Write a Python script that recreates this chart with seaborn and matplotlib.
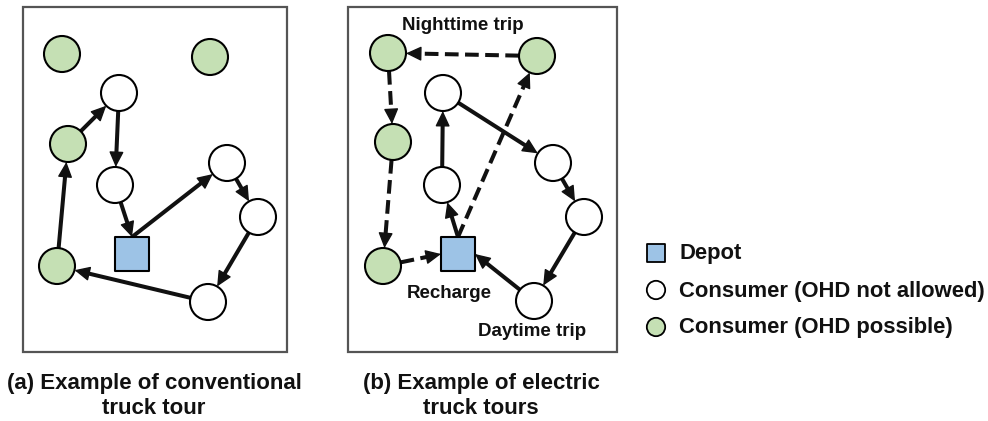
import numpy as np
import pandas as pd
import matplotlib.pyplot as plt
import seaborn as sns

# node data, in pixel units of the 988x421 canvas (y grows downwards)
a_x = [62, 210, 119, 68, 115, 227, 258, 132, 57, 208]
a_y = [54, 57, 93, 144, 185, 163, 217, 254, 266, 302]
a_kind = ["green", "green", "white", "green", "white", "white", "white", "depot", "green", "white"]
# (from, to, line style, port at start, port at end)
a_edges = [
    (7, 5, "solid", "top", "c"),
    (5, 6, "solid", "c", "c"),
    (6, 9, "solid", "c", "c"),
    (9, 8, "solid", "c", "c"),
    (8, 3, "solid", "c", "c"),
    (3, 2, "solid", "c", "c"),
    (2, 4, "solid", "c", "c"),
    (4, 7, "solid", "c", "top"),
]

b_x = [388, 537, 443, 393, 553, 442, 584, 458, 383, 534]
b_y = [53, 56, 93, 142, 163, 185, 217, 254, 266, 301]
b_kind = ["green", "green", "white", "green", "white", "white", "white", "depot", "green", "white"]
b_edges = [
    (7, 5, "solid", "top", "c"),
    (5, 2, "solid", "c", "c"),
    (2, 4, "solid", "c", "c"),
    (4, 6, "solid", "c", "c"),
    (6, 9, "solid", "c", "c"),
    (9, 7, "solid", "c", "right"),
    (7, 1, "dashed", "top", "c"),
    (1, 0, "dashed", "c", "c"),
    (0, 3, "dashed", "c", "c"),
    (3, 8, "dashed", "c", "c"),
    (8, 7, "dashed", "c", "left"),
]

b_notes = ["Nighttime trip", "Recharge", "Daytime trip"]
b_notes_x = [463, 449, 532]
b_notes_y = [25, 293, 332]

captions = ["(a) Example of conventional\ntruck tour", "(b) Example of electric\ntruck tours"]
legend_kind = ["depot", "white", "green"]
legend_text = ["Depot", "Consumer (OHD not allowed)", "Consumer (OHD possible)"]

colors = {"depot": "#9dc3e6", "white": "#ffffff", "green": "#c5e0b4"}
markers = {"depot": "s", "white": "o", "green": "o"}
sizes = {"depot": 600, "white": 672, "green": 672}
half = {"depot": 17, "white": 18, "green": 18}
line_color = "#111111"

fig = plt.figure(figsize=(9.88, 4.21), dpi=100)
ax = fig.add_axes([0, 0, 1, 1])
ax.set_xlim(0, 988)
ax.set_ylim(421, 0)
ax.axis("off")

font = dict(family="Liberation Sans", fontweight="bold", color="#111111")

# panel frames
for (x0, y0, x1, y1) in [(23, 7, 287, 352), (348, 7, 617, 352)]:
    ax.add_patch(plt.Rectangle((x0, y0), x1 - x0, y1 - y0, fill=False,
                               edgecolor="#555555", linewidth=1.6, zorder=1))


def port_point(px, py, kind, port, tx, ty):
    h = half[kind]
    if port == "top":
        return np.array([px, py - h])
    if port == "left":
        return np.array([px - h, py])
    if port == "right":
        return np.array([px + h, py])
    d = np.array([tx - px, ty - py], dtype=float)
    if kind == "depot":
        return np.array([px, py]) + d * h / np.abs(d).max()
    return np.array([px, py]) + d / np.linalg.norm(d) * h


def draw_panel(xs, ys, kinds, edges):
    df = pd.DataFrame({"x": xs, "y": ys, "kind": kinds})
    sns.scatterplot(data=df, x="x", y="y", hue="kind", style="kind", size="kind",
                    palette=colors, markers=markers, sizes=sizes,
                    edgecolor="black", linewidth=1.5, legend=False, ax=ax, zorder=4)
    for s, t, style, ps, pt in edges:
        # aim at the other node's port (or centre)
        st = port_point(xs[t], ys[t], kinds[t], pt, xs[s], ys[s]) if pt != "c" else (xs[t], ys[t])
        p0 = port_point(xs[s], ys[s], kinds[s], ps, st[0], st[1])
        sp = p0 if ps != "c" else (xs[s], ys[s])
        p1 = port_point(xs[t], ys[t], kinds[t], pt, sp[0], sp[1])
        u = (p1 - p0) / np.linalg.norm(p1 - p0)
        head = 13.0
        shaft_end = p1 - u * head * 0.6
        if style == "dashed":
            ax.plot([p0[0], shaft_end[0]], [p0[1], shaft_end[1]], color=line_color,
                    linewidth=2.9, dashes=(3.4, 1.6), solid_capstyle="butt", zorder=2)
        else:
            ax.plot([p0[0], shaft_end[0]], [p0[1], shaft_end[1]], color=line_color,
                    linewidth=2.9, solid_capstyle="butt", zorder=2)
        tail = p1 - u * head
        ax.annotate("", xy=p1, xytext=tail,
                    arrowprops=dict(arrowstyle="-|>,head_length=0.95,head_width=0.45",
                                    mutation_scale=10, color=line_color, lw=1,
                                    shrinkA=0, shrinkB=0), zorder=3)


draw_panel(a_x, a_y, a_kind, a_edges)
draw_panel(b_x, b_y, b_kind, b_edges)

for txt, x, y in zip(b_notes, b_notes_x, b_notes_y):
    ax.text(x, y, txt, ha="center", va="center", fontsize=13.5, zorder=5, **font)

for txt, x in zip(captions, [154, 481]):
    ax.text(x, 396, txt, ha="center", va="center", fontsize=16, linespacing=1.2, **font)

# legend
leg = pd.DataFrame({"x": [656, 656, 656], "y": [253, 290, 327], "kind": legend_kind})
sns.scatterplot(data=leg, x="x", y="y", hue="kind", style="kind", palette=colors,
                markers=markers, s=175, edgecolor="black", linewidth=1.3,
                legend=False, ax=ax, zorder=4)
for txt, y in zip(legend_text, leg["y"]):
    ax.text(679, y + 1, txt, ha="left", va="center", fontsize=15.8, **font)

fig.savefig("out.png", dpi=100)
